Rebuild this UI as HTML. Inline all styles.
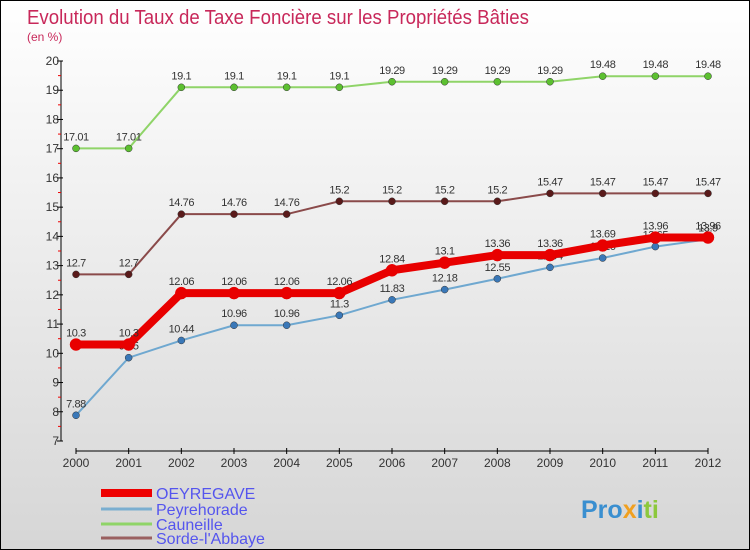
<!DOCTYPE html>
<html><head><meta charset="utf-8"><style>
body{margin:0}
#c{position:relative;width:748px;height:548px;border:1px solid #000;background:linear-gradient(#ffffff,#d6d6d6);font-family:"Liberation Sans","DejaVu Sans",sans-serif;overflow:hidden}
svg{position:absolute;left:0;top:0}
</style></head><body>
<div id="c">
<svg id="s" width="748" height="548">
<text x="26" y="23" font-size="20" fill="#c8285a" textLength="502" lengthAdjust="spacingAndGlyphs">Evolution du Taux de Taxe Foncière sur les Propriétés Bâties</text>
<text x="26" y="40" font-size="12" fill="#c8285a">(en %)</text>
<g id="g"></g>
<text x="580" y="517" font-size="25" font-weight="bold" fill="#3a8fd0">Pro<tspan fill="#f0a020">x</tspan><tspan fill="#3a8fd0">i</tspan><tspan fill="#8cc83c">ti</tspan></text>
</svg>
</div>
<script>
const years=["2000","2001","2002","2003","2004","2005","2006","2007","2008","2009","2010","2011","2012"];
const yTicks=[7,8,9,10,11,12,13,14,15,16,17,18,19,20];
const oeyregave=[10.3,10.3,12.06,12.06,12.06,12.06,12.84,13.1,13.36,13.36,13.69,13.96,13.96];
const peyrehorade=[7.88,9.85,10.44,10.96,10.96,11.3,11.83,12.18,12.55,12.94,13.26,13.65,13.9];
const cauneille=[17.01,17.01,19.1,19.1,19.1,19.1,19.29,19.29,19.29,19.29,19.48,19.48,19.48];
const sorde=[12.7,12.7,14.76,14.76,14.76,15.2,15.2,15.2,15.2,15.47,15.47,15.47,15.47];
const names=["OEYREGAVE","Peyrehorade","Cauneille","Sorde-l'Abbaye"];
const NS="http://www.w3.org/2000/svg";
const g=document.getElementById('g');
const X=i=>75+i*(707-75)/12;
const Y=v=>440-(v-7)*(380/13);
function el(t,a,p){const e=document.createElementNS(NS,t);for(const k in a)e.setAttribute(k,a[k]);(p||g).appendChild(e);return e;}
let a=el('line',{x1:60,y1:Y(20),x2:60,y2:Y(7),stroke:'#000'});


a=el('line',{x1:X(0),y1:450,x2:X(12),y2:450,stroke:'#000'});


yTicks.forEach(v=>{
 el('line',{x1:56,y1:Y(v),x2:62,y2:Y(v),stroke:'#000'});
 if(v<20){el('line',{x1:57,y1:Y(v+0.5),x2:60,y2:Y(v+0.5),stroke:'#e00'});}
 const t=el('text',{x:58,y:Y(v)+4,'font-size':12,'text-anchor':'end',fill:'#333'});t.textContent=v;
 
 
});
years.forEach((y,i)=>{
 el('line',{x1:X(i),y1:447,x2:X(i),y2:453,stroke:'#000'});
 const t=el('text',{x:X(i),y:466,'font-size':12,'text-anchor':'middle',fill:'#333'});t.textContent=y;
 
 
});
const series=[[cauneille,'#8fd468','#5cc030',2,3.5],[sorde,'#8a4a4a','#5a1a1a',2,3.5],[peyrehorade,'#6fa8d0','#3a78b8',2,3.5],[oeyregave,'#e80000','#e80000',8,6]];
series.forEach(([d,c,dc,w,r],si)=>{
 const p=el('polyline',{points:d.map((v,i)=>X(i)+','+Y(v)).join(' '),fill:'none',stroke:c,'stroke-width':w});
 
 
 d.forEach((v,i)=>{
  const pt=el('circle',{cx:X(i),cy:Y(v),r:r,fill:dc,stroke:si==3?'#e80000':'#333','stroke-width':0.5});
  
  
  const t=el('text',{x:X(i),y:Y(v)-8,'font-size':11,'text-anchor':'middle',fill:'#333','letter-spacing':'-0.4'});t.textContent=v;
  
  
 });
});
const lc=['#ee0000','#7aaed0','#8fd468','#9a6060'],lw=[8,3,3,3],ly=[492,508,523,537];
names.forEach((n,i)=>{
 const l=el('line',{x1:100,y1:ly[i],x2:151,y2:ly[i],stroke:lc[i],'stroke-width':lw[i]});
 
 
 const t=el('text',{x:155,y:ly[i]+6,'font-size':16,fill:'#5555ee'});t.textContent=n;
 
 
});
</script>
</body></html>
